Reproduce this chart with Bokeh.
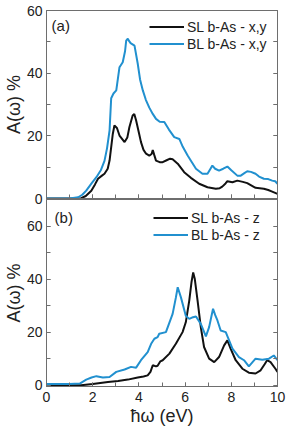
from bokeh.plotting import figure
from bokeh.layouts import column
from bokeh.models import Range1d, LinearAxis, SingleIntervalTicker, Legend, LegendItem, Label
from bokeh.embed import file_html
from bokeh.resources import INLINE

# Photon energy (eV) and absorbance A(w) in %, in-plane polarisation (x,y)
sl_xy_e = [0, 1.0, 1.5, 1.7, 1.94, 2.1, 2.23, 2.4, 2.51, 2.65, 2.73, 2.87, 2.94, 3.05, 3.16, 3.38, 3.5,
           3.59, 3.73, 3.8, 3.88, 4.0, 4.09, 4.2, 4.31, 4.45, 4.55, 4.6, 4.66, 4.74, 4.9, 5.03, 5.2,
           5.35, 5.46, 5.68, 5.96, 6.25, 6.61, 6.97, 7.33, 7.5, 7.61, 7.75, 7.83, 8.05, 8.26, 8.5,
           8.69, 9.05, 9.41, 9.6, 9.77, 10.0]
sl_xy_a = [0, 0, 0.1, 0.8, 2.5, 4.5, 6.3, 7.3, 7.9, 9.5, 12.1, 20.6, 23.3, 22.5, 20.1, 18, 19.5,
           22.8, 26.5, 27, 24.9, 21, 18, 15.5, 14.3, 13.7, 14.2, 15.5, 14, 12.1, 11.6, 11.6, 12.2,
           12.7, 12.5, 11.1, 8.4, 6.6, 4.7, 3.6, 3.1, 3.3, 3.8, 4.8, 5.5, 5.2, 5.7, 5.3,
           4.9, 3.4, 3.1, 2.7, 2.2, 1.5]

bl_xy_e = [0, 1.0, 1.37, 1.55, 1.72, 1.95, 2.16, 2.35, 2.51, 2.62, 2.73, 2.80, 2.9, 3.02, 3.16, 3.3,
           3.4, 3.45, 3.52, 3.58, 3.64, 3.81, 3.95, 4.05, 4.17, 4.3, 4.45, 4.6, 4.74, 4.9, 5.10,
           5.3, 5.53, 5.75, 5.9, 6.11, 6.3, 6.47, 6.75, 6.97, 7.1, 7.18, 7.3, 7.47, 7.65, 7.83,
           8.0, 8.26, 8.41, 8.55, 8.69, 8.85, 9.05, 9.2, 9.41, 9.6, 9.77, 9.9, 10.0]
bl_xy_a = [0, 0, 0.4, 1.2, 2.5, 4.8, 6.8, 9, 12, 16, 21.7, 32, 33.5, 34.5, 41.9, 43.5,
           47, 50.4, 51, 50.2, 49.6, 48.8, 43, 38, 34.5, 31.5, 29, 27, 25.4, 24.5, 24.4,
           22, 19.6, 19, 16.5, 13.7, 11.5, 9.5, 7.9, 7.9, 9.5, 10.5, 9.5, 8.9, 9.5, 10.2,
           9, 7.3, 7.3, 8, 8.7, 8.5, 7.9, 7, 6.3, 6.2, 5.7, 5.5, 4.7]

# Out-of-plane polarisation (z)
sl_z_e = [0, 1.5, 2.0, 2.66, 3.1, 3.52, 3.95, 4.2, 4.38, 4.5, 4.6, 4.74, 4.81, 4.93, 5.03, 5.32,
          5.60, 5.89, 6.03, 6.18, 6.28, 6.35, 6.42, 6.54, 6.68, 6.82, 7.04, 7.26, 7.47, 7.69,
          7.83, 7.97, 8.19, 8.48, 8.76, 9.05, 9.27, 9.45, 9.55, 9.70, 9.91, 10.0]
sl_z_a = [0, 0, 0.4, 1.2, 1.6, 2.1, 2.9, 3.3, 3.7, 5.0, 7.5, 7.1, 7.3, 9.0, 9.4, 11.9,
          15.6, 20, 23.7, 31.9, 39, 42.5, 40, 31.9, 21.9, 14.4, 10, 8.7, 10.6, 15,
          16.9, 13.8, 9.4, 6.2, 4.7, 4.4, 5.6, 8.0, 9.4, 8.7, 6.2, 5.0]

bl_z_e = [0, 1.0, 1.44, 1.72, 1.95, 2.16, 2.44, 2.73, 3.02, 3.38, 3.66, 3.88, 4.09, 4.38, 4.53,
          4.67, 4.81, 4.88, 5.17, 5.46, 5.6, 5.68, 5.82, 6.03, 6.18, 6.3, 6.47, 6.68, 6.90,
          7.04, 7.14, 7.21, 7.30, 7.40, 7.54, 7.76, 8.05, 8.33, 8.55, 8.76, 9.05, 9.34, 9.63,
          9.84, 10.0]
bl_z_a = [0.4, 0.4, 0.6, 2.1, 2.9, 3.4, 2.9, 3.1, 5, 5.9, 6.9, 6.6, 9.4, 12.5, 15.6,
          17.5, 18.1, 19.4, 20, 26.9, 33, 36.9, 33.1, 26.2, 25, 25.5, 25.9, 23.1, 18.4,
          21.9, 26, 28.8, 26.5, 24.4, 20.6, 20, 13.8, 10.6, 9.4, 7.1, 10, 9.6, 10,
          11.2, 9.4]

FONT = "Liberation Sans"
BLACK = "#111111"
BLUE = "#2190cf"
FRAME = "#6e6e6e"
TEXT = "#222222"


def style_axis(ax, labels=True):
    ax.axis_line_color = FRAME
    ax.major_tick_line_color = FRAME
    ax.minor_tick_line_color = FRAME
    ax.major_tick_in = 4
    ax.major_tick_out = 0
    ax.minor_tick_in = 4
    ax.minor_tick_out = 0
    ax.major_label_text_font = FONT
    ax.major_label_text_color = TEXT
    ax.axis_label_text_font = FONT
    ax.axis_label_text_font_style = "normal"
    ax.axis_label_text_color = TEXT
    if labels:
        ax.major_label_text_font_size = "14px"
        ax.axis_label_text_font_size = "18px"
    else:
        # tick marks only: labels are not painted and take almost no room
        ax.major_label_text_font_size = "1px"
        ax.major_label_text_alpha = 0
        ax.major_label_standoff = 0
        ax.axis_label = None


def panel(y_range, height, show_x, top, bottom):
    p = figure(width=291, height=height, x_range=Range1d(0, 10), y_range=y_range,
               output_backend="svg", toolbar_location=None,
               min_border_left=45, min_border_right=14, min_border_top=top,
               min_border_bottom=bottom)
    p.grid.visible = False
    p.outline_line_color = FRAME
    p.background_fill_color = "white"
    p.border_fill_color = "white"

    p.xaxis.ticker = SingleIntervalTicker(interval=2, num_minor_ticks=2)
    p.yaxis.ticker = SingleIntervalTicker(interval=20, num_minor_ticks=2)
    style_axis(p.xaxis[0], labels=show_x)
    style_axis(p.yaxis[0])
    p.yaxis.axis_label = "A(\u03c9) %"
    p.yaxis.major_label_standoff = 4
    p.yaxis.axis_label_standoff = 0
    if show_x:
        p.xaxis.axis_label = "\u0127\u03c9 (eV)"
        p.xaxis.major_label_standoff = 5
        p.xaxis.axis_label_standoff = 1

    right = LinearAxis(ticker=SingleIntervalTicker(interval=10, num_minor_ticks=1))
    style_axis(right, labels=False)
    p.add_layout(right, "right")
    return p


# upper panel keeps a short bottom border so its "0" tick label is not clipped
pa = panel(Range1d(0, 60), 206, False, 10, 8)
r1 = pa.line(sl_xy_e, sl_xy_a, line_color=BLACK, line_width=2)
r2 = pa.line(bl_xy_e, bl_xy_a, line_color=BLUE, line_width=2)

# lower panel slides up over that border; its border area is transparent
pb = panel(Range1d(-0.5, 70), 231, True, 1, 43)
pb.border_fill_alpha = 0
pb.margin = (-8, 0, 0, 0)
r3 = pb.line(sl_z_e, sl_z_a, line_color=BLACK, line_width=2)
r4 = pb.line(bl_z_e, bl_z_a, line_color=BLUE, line_width=2)


def add_legend(p, items, loc):
    lg = Legend(items=items, location=loc)
    lg.border_line_color = None
    lg.background_fill_alpha = 0
    lg.label_text_font = FONT
    lg.label_text_font_size = "14px"
    lg.label_text_color = TEXT
    lg.glyph_width = 35
    lg.glyph_height = 17
    lg.label_height = 17
    lg.label_standoff = 3
    lg.spacing = 0
    lg.padding = 0
    lg.margin = 0
    p.add_layout(lg)


add_legend(pa, [LegendItem(label="SL b-As - x,y", renderers=[r1]),
                LegendItem(label="BL b-As - x,y", renderers=[r2])], (103, 146))
add_legend(pb, [LegendItem(label="SL b-As - z", renderers=[r3]),
                LegendItem(label="BL b-As - z", renderers=[r4])], (107, 143))

pa.add_layout(Label(x=0.22, y=57.8, text="(a)", text_font=FONT, text_font_size="15px",
                    text_baseline="top", text_color=TEXT))
pb.add_layout(Label(x=0.35, y=66.5, text="(b)", text_font=FONT, text_font_size="15px",
                    text_baseline="top", text_color=TEXT))

layout = column(pa, pb, spacing=0)
open("out.html", "w").write(file_html(layout, INLINE))
